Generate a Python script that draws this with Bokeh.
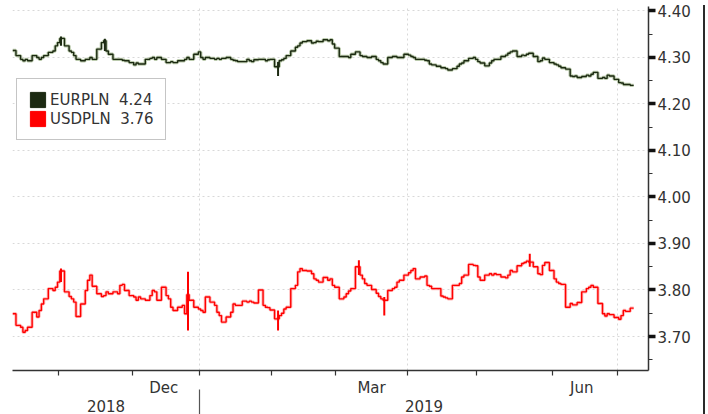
import numpy as np
import pandas as pd
from bokeh.plotting import figure
from bokeh.layouts import row
from bokeh.models import (Range1d, FixedTicker, DatetimeAxis, Div,
                          DatetimeTickFormatter, NumeralTickFormatter, Legend, LegendItem)
from bokeh.embed import file_html
from bokeh.resources import INLINE

# ---------------- data (daily closes, business days from start_date) ----------------
start_date = "2018-10-12"
eurpln = [
    4.315,
    4.304, 4.296, 4.293, 4.296, 4.293,
    4.304, 4.300, 4.296, 4.300, 4.304,
    4.311, 4.314, 4.325, 4.332, 4.341,
    4.325, 4.314, 4.311, 4.304, 4.296,
    4.293, 4.296, 4.296, 4.300, 4.296,
    4.318, 4.332, 4.336, 4.314, 4.307,
    4.296, 4.296, 4.296, 4.294, 4.293,
    4.289, 4.284, 4.288, 4.286, 4.286,
    4.296, 4.298, 4.300, 4.296, 4.300,
    4.296, 4.289, 4.289, 4.291, 4.289,
    4.293, 4.293, 4.296, 4.300, 4.296,
    4.307, 4.312, 4.300, 4.296, 4.300,
    4.298, 4.296, 4.298, 4.296, 4.298,
    4.300, 4.296, 4.294, 4.293, 4.291,
    4.291, 4.296, 4.293, 4.291, 4.295,
    4.296, 4.296, 4.293, 4.295, 4.296,
    4.280, 4.293, 4.295, 4.298, 4.304,
    4.314, 4.322, 4.325, 4.331, 4.334,
    4.336, 4.331, 4.332, 4.335, 4.334,
    4.338, 4.336, 4.338, 4.329, 4.320,
    4.302, 4.302, 4.302, 4.300, 4.307,
    4.312, 4.304, 4.302, 4.302, 4.300,
    4.302, 4.296, 4.293, 4.289, 4.286,
    4.300, 4.302, 4.302, 4.300, 4.300,
    4.307, 4.305, 4.302, 4.300, 4.296,
    4.296, 4.294, 4.293, 4.286, 4.284,
    4.281, 4.278, 4.278, 4.276, 4.273,
    4.276, 4.281, 4.286, 4.288, 4.293,
    4.298, 4.300, 4.296, 4.291, 4.288,
    4.282, 4.288, 4.293, 4.296, 4.296,
    4.302, 4.305, 4.309, 4.312, 4.314,
    4.302, 4.305, 4.304, 4.307, 4.309,
    4.302, 4.291, 4.293, 4.299, 4.296,
    4.289, 4.286, 4.284, 4.281, 4.278,
    4.275, 4.260, 4.259, 4.260, 4.257,
    4.259, 4.262, 4.260, 4.264, 4.268,
    4.255, 4.257, 4.255, 4.262, 4.260,
    4.253, 4.246, 4.245, 4.242, 4.242,
    4.240,
]
usdpln = [
    3.749,
    3.724, 3.720, 3.709, 3.713, 3.720,
    3.752, 3.742, 3.756, 3.770, 3.781,
    3.803, 3.799, 3.806, 3.817, 3.841,
    3.796, 3.786, 3.781, 3.774, 3.743,
    3.770, 3.799, 3.821, 3.832, 3.808,
    3.792, 3.786, 3.788, 3.796, 3.792,
    3.796, 3.792, 3.810, 3.812, 3.799,
    3.788, 3.785, 3.778, 3.785, 3.781,
    3.778, 3.788, 3.799, 3.796, 3.778,
    3.806, 3.788, 3.781, 3.763, 3.756,
    3.763, 3.767, 3.749, 3.790, 3.778,
    3.763, 3.759, 3.756, 3.752, 3.785,
    3.774, 3.767, 3.752, 3.745, 3.731,
    3.742, 3.752, 3.770, 3.767, 3.767,
    3.776, 3.774, 3.776, 3.774, 3.772,
    3.800, 3.767, 3.763, 3.762, 3.757,
    3.738, 3.745, 3.750, 3.759, 3.763,
    3.803, 3.810, 3.839, 3.846, 3.842,
    3.841, 3.835, 3.824, 3.821, 3.817,
    3.827, 3.821, 3.824, 3.810, 3.806,
    3.781, 3.785, 3.792, 3.798, 3.803,
    3.850, 3.832, 3.824, 3.814, 3.810,
    3.801, 3.793, 3.786, 3.781, 3.778,
    3.799, 3.803, 3.806, 3.817, 3.821,
    3.832, 3.837, 3.842, 3.846, 3.824,
    3.828, 3.830, 3.810, 3.808, 3.803,
    3.803, 3.787, 3.785, 3.783, 3.781,
    3.810, 3.810, 3.814, 3.828, 3.832,
    3.855, 3.853, 3.852, 3.828, 3.821,
    3.832, 3.835, 3.832, 3.835, 3.833,
    3.828, 3.826, 3.832, 3.842, 3.839,
    3.852, 3.857, 3.859, 3.862, 3.860,
    3.850, 3.835, 3.833, 3.853, 3.859,
    3.842, 3.824, 3.817, 3.814, 3.812,
    3.763, 3.771, 3.768, 3.768, 3.773,
    3.796, 3.803, 3.806, 3.810, 3.806,
    3.771, 3.749, 3.744, 3.749, 3.747,
    3.741, 3.737, 3.745, 3.756, 3.754,
    3.761,
]
# days with a wide daily range (low/high bars)
usd_spike_dates = ["2018-11-02", "2018-12-27", "2019-02-04", "2019-03-11", "2019-03-22", "2019-05-24"]
usd_spike_low = [3.817, 3.713, 3.713, 3.832, 3.745, 3.850]
usd_spike_high = [3.846, 3.839, 3.756, 3.864, 3.785, 3.878]
eur_spike_dates = ["2018-11-02", "2018-11-21", "2019-02-04"]
eur_spike_low = [4.325, 4.314, 4.260]
eur_spike_high = [4.345, 4.340, 4.290]

legend_labels = ["EURPLN\u00a0 4.24", "USDPLN\u00a0 3.76"]
y_ticks = [3.70, 3.80, 3.90, 4.00, 4.10, 4.20, 4.30, 4.40]
y_minor = [3.65, 3.75, 3.85, 3.95, 4.05, 4.15, 4.25, 4.35]
month_starts = ["2018-11-01", "2018-12-03", "2019-01-01", "2019-02-01", "2019-03-01",
                "2019-04-01", "2019-05-01", "2019-06-03", "2019-07-01"]
month_label_pos = ["2018-12-16 12:00", "2019-03-16 12:00", "2019-06-15 12:00"]
year_label_pos = ["2018-11-21 12:00", "2019-04-08 05:00"]
year_break = ["2019-01-01"]
grid_dates = ["2019-01-01", "2019-04-01", "2019-07-01"]

EUR_C = "#1c2a12"
USD_C = "#ff0000"
TXT = "#333333"
FONT = "DejaVu Sans"


def ms(lst):
    return [float(pd.Timestamp(d).value // 10**6) for d in lst]


dates = pd.bdate_range(start_date, periods=len(eurpln))

p = figure(width=698, height=414, x_axis_type="datetime", y_axis_location="right",
           output_backend="svg", toolbar_location=None,
           x_range=Range1d(pd.Timestamp("2018-10-12 00:00"), pd.Timestamp("2019-07-14 10:00")),
           y_range=Range1d(3.6269, 4.4096),
           min_border_left=12, min_border_right=50, min_border_top=6, min_border_bottom=0)
p.outline_line_color = None
p.background_fill_color = "white"
p.border_fill_color = "white"

# grids
p.ygrid.ticker = FixedTicker(ticks=y_ticks)
p.xgrid.ticker = FixedTicker(ticks=ms(grid_dates))
for g in (p.xgrid, p.ygrid):
    g.grid_line_color = "#d8d8d8"
    g.grid_line_dash = "2 3"
    g.grid_line_width = 1

# series
p.step(dates, eurpln, mode="center", line_color="#9fb58c", line_width=3.4, line_alpha=0.7)
p.step(dates, eurpln, mode="center", line_color=EUR_C, line_width=1.4)
p.segment(pd.to_datetime(eur_spike_dates), eur_spike_low, pd.to_datetime(eur_spike_dates), eur_spike_high,
          line_color=EUR_C, line_width=2)
p.step(dates, usdpln, mode="center", line_color="#ff9090", line_width=3.2, line_alpha=0.6)
p.step(dates, usdpln, mode="center", line_color=USD_C, line_width=1.4)
p.segment(pd.to_datetime(usd_spike_dates), usd_spike_low, pd.to_datetime(usd_spike_dates), usd_spike_high,
          line_color=USD_C, line_width=2)

# legend swatches
r_eur = p.quad(left=[np.nan], right=[np.nan], bottom=[np.nan], top=[np.nan],
               fill_color=EUR_C, line_color=EUR_C)
r_usd = p.quad(left=[np.nan], right=[np.nan], bottom=[np.nan], top=[np.nan],
               fill_color=USD_C, line_color=USD_C)
legend = Legend(items=[LegendItem(label=legend_labels[0], renderers=[r_eur]),
                       LegendItem(label=legend_labels[1], renderers=[r_usd])],
                location=(4, 230), margin=0, padding=11, spacing=0,
                glyph_width=19, glyph_height=19, label_height=19, label_standoff=3,
                label_text_font=FONT, label_text_font_size="15px", label_text_color=TXT,
                border_line_color="#8c8c8c", border_line_width=1.5,
                background_fill_color="white", background_fill_alpha=1)
p.add_layout(legend)

# y axis (right)
ya = p.yaxis[0]
ya.ticker = FixedTicker(ticks=y_ticks, minor_ticks=y_minor)
ya.formatter = NumeralTickFormatter(format="0.00")
ya.axis_line_color = TXT
ya.axis_line_width = 1.5
ya.major_tick_in = 0
ya.major_tick_out = 7
ya.major_tick_line_width = 3.5
ya.major_tick_line_color = "#111111"
ya.minor_tick_in = 0
ya.minor_tick_out = 4
ya.minor_tick_line_color = TXT
ya.major_label_standoff = 2
ya.major_label_text_font = FONT
ya.major_label_text_font_size = "15px"
ya.major_label_text_color = TXT

# x axis: month ticks + quarter month labels
xa = p.xaxis[0]
xa.ticker = FixedTicker(ticks=ms(month_label_pos), minor_ticks=ms(month_starts))
fmt_b = dict((k, "%b") for k in ["microseconds", "milliseconds", "seconds", "minsec", "minutes",
                                  "hourmin", "hours", "days", "months", "years"])
xa.formatter = DatetimeTickFormatter(**fmt_b)
xa.axis_line_color = TXT
xa.axis_line_width = 1.5
xa.major_tick_line_color = None
xa.major_tick_out = 0
xa.major_tick_in = 0
xa.minor_tick_out = 5
xa.minor_tick_in = 0
xa.minor_tick_line_color = TXT
xa.minor_tick_line_width = 1.2
xa.major_label_standoff = 3
xa.major_label_text_font = FONT
xa.major_label_text_font_size = "15px"
xa.major_label_text_color = TXT
xa.major_label_text_line_height = 1.0

# year axis
fmt_y = dict((k, "%Y") for k in fmt_b)
year_axis = DatetimeAxis(ticker=FixedTicker(ticks=ms(year_label_pos), minor_ticks=ms(year_break)),
                         formatter=DatetimeTickFormatter(**fmt_y))
year_axis.axis_line_color = None
year_axis.major_tick_line_color = None
year_axis.major_tick_out = 0
year_axis.major_tick_in = 0
year_axis.minor_tick_out = 16
year_axis.minor_tick_in = 10
year_axis.minor_tick_line_color = "#555555"
year_axis.minor_tick_line_width = 1.2
year_axis.major_label_standoff = -16
year_axis.major_label_text_font = FONT
year_axis.major_label_text_font_size = "15px"
year_axis.major_label_text_color = TXT
year_axis.major_label_text_line_height = 1.0
p.add_layout(year_axis, "below")

# thin outer border line on the right edge of the chart
edge = Div(text="", width=2, height=414, styles={"background-color": "#2a2a2a"})

layout = row(p, edge, spacing=0)
open("out.html", "w").write(file_html(layout, INLINE))
